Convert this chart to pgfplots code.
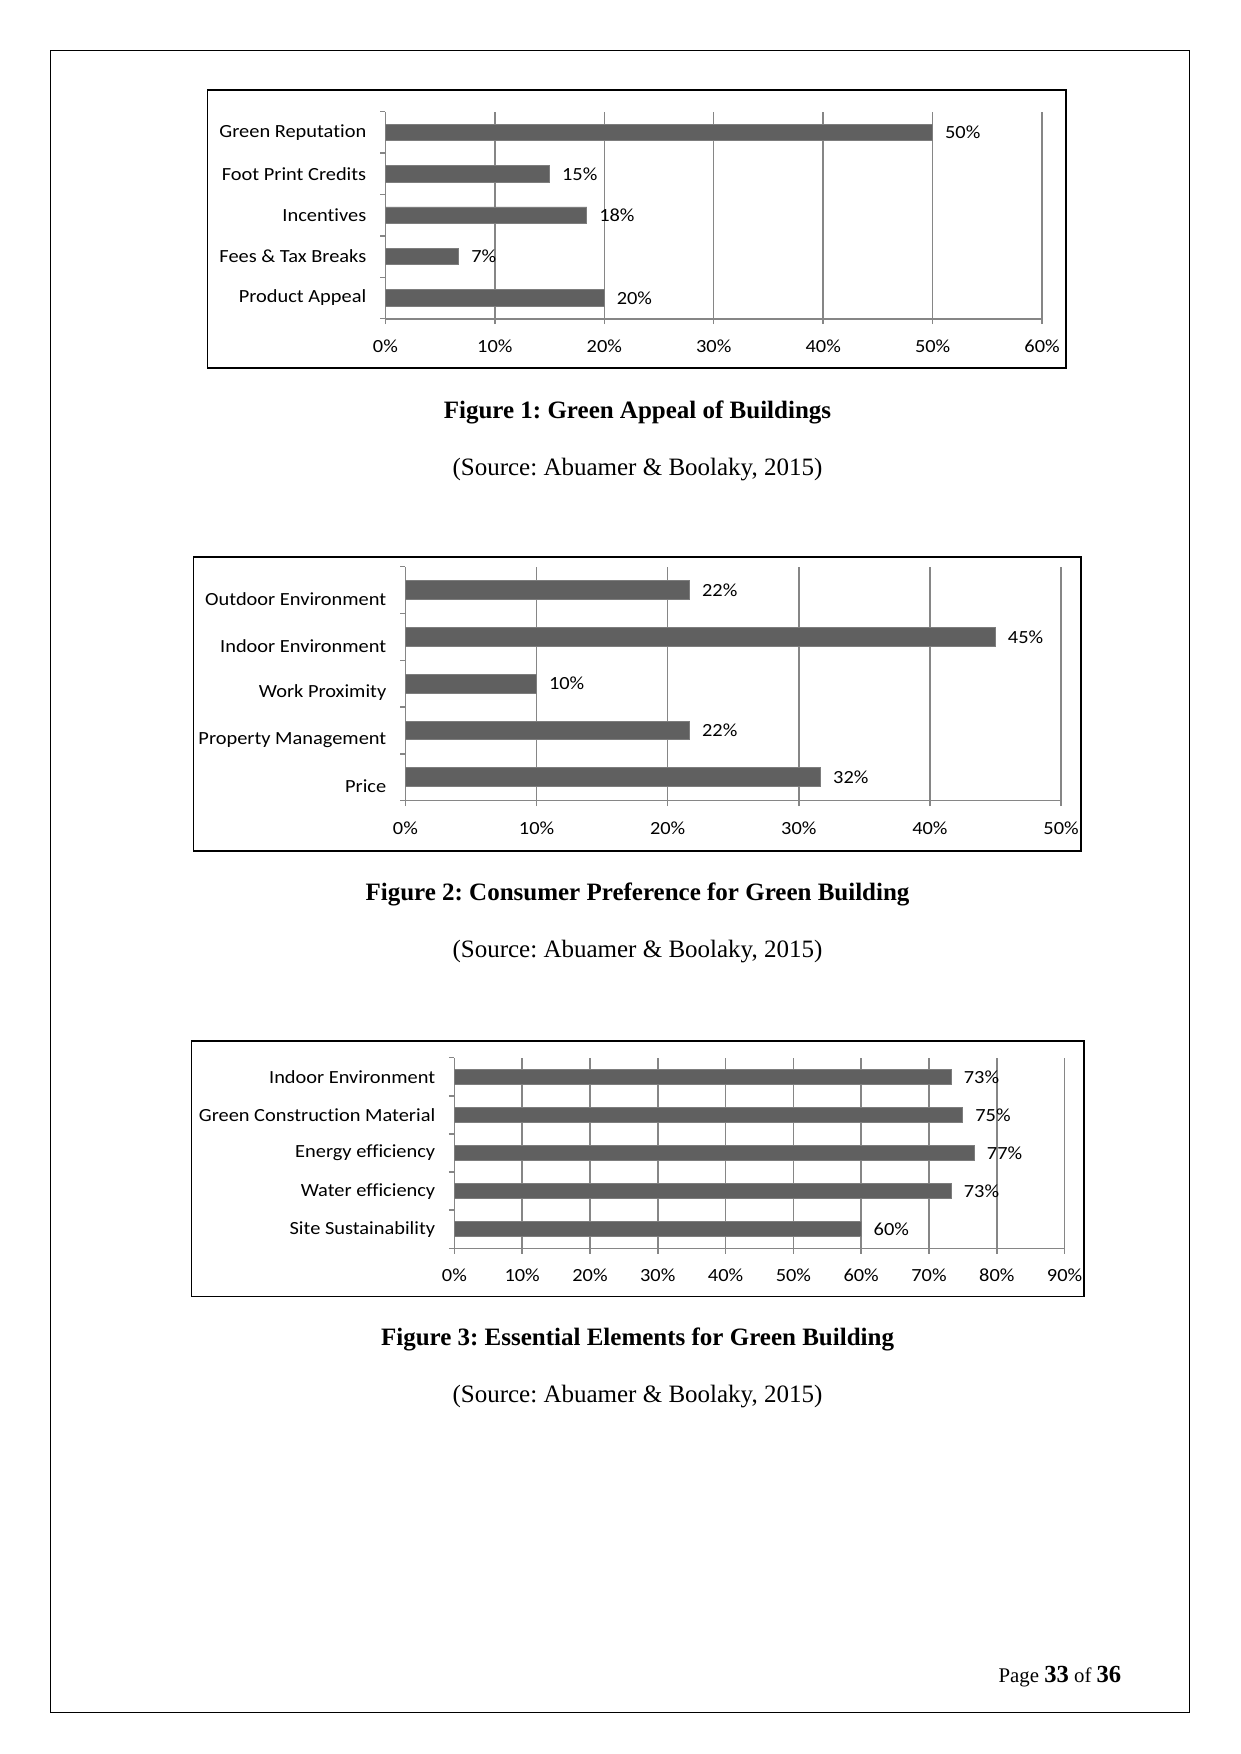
\documentclass[border=0pt]{standalone}
\usepackage{fontspec}
\setmainfont{Liberation Serif}
\newfontfamily\chartfont[FakeStretch=1.1, Ligatures=NoCommon]{Carlito}
\usepackage{pgfplots}
\pgfplotsset{compat=1.18}
\frenchspacing
\definecolor{barfill}{RGB}{96,96,96}
\definecolor{bardraw}{RGB}{125,125,125}
\definecolor{gridc}{RGB}{134,134,134}
\newcommand\cf{\chartfont\fontsize{8.9}{10}\selectfont}
\pgfplotsset{excelbar/.style={
  scale only axis, anchor=south west,
  xbar, bar width=0.4,
  ymin=-0.5, ymax=4.5,
  ytick={-0.5,0.5,...,4.5}, y tick label as interval,
  axis x line*=bottom, axis y line*=left,
  axis line style={draw=gridc, line width=0.8pt, -},
  xmajorgrids, grid style={draw=gridc, line width=0.7pt},
  tick align=outside, major tick length=2.6pt,
  tick style={draw=gridc, line width=0.7pt},
  xmin=0,
  ticklabel style={font=\cf, text=black},
  xticklabel style={anchor=center, yshift=-10.5pt, inner sep=0pt},
  yticklabel style={anchor=east, inner sep=0pt, xshift=-6.4pt},
  nodes near coords={\pgfplotspointmeta\%},
  point meta=explicit symbolic,
  every node near coord/.append style={anchor=west, inner sep=0pt, xshift=5.8pt, font=\cf, text=black},
  clip=false,
}}
\begin{document}
\begin{tikzpicture}
\fill[white] (0,0) rectangle (595.68pt,-841.92pt);
\path[use as bounding box] (0,0) rectangle (595.68pt,-841.92pt);
\draw[line width=0.65pt] (24.34pt,-24.34pt) rectangle (570.86pt,-822.1pt);

% Chart 1
\begin{axis}[excelbar, at={(185.0pt,-153.0pt)}, width=315.2pt, height=99.4pt,
  xmax=60, xtick={0,10,...,60},
  xticklabels={0\%,10\%,20\%,30\%,40\%,50\%,60\%},
  yticklabels={Product Appeal, Fees \& Tax Breaks, Incentives, Foot Print Credits, Green Reputation}]
\addplot[fill=barfill, draw=bardraw, line width=0.4pt] table[x=v, y=i, meta=lab] {
i v lab
0 20.0 20
1 6.7 7
2 18.4 18
3 15.0 15
4 50.0 50
};
\end{axis}
\draw[line width=0.9pt] (99.6pt,-43.2pt) rectangle (511.7pt,-176.6pt);
\node[anchor=base] at (306pt,-201pt) {\fontsize{12}{14}\selectfont\bfseries Figure 1: Green Appeal of Buildings};
\node[anchor=base] at (306pt,-228.4pt) {\fontsize{12}{14}\selectfont (Source: Abuamer \& Boolaky, 2015)};

% Chart 2
\begin{axis}[excelbar, at={(194.6pt,-384.3pt)}, width=314.7pt, height=112.3pt,
  xmax=50, xtick={0,10,...,50},
  xticklabels={0\%,10\%,20\%,30\%,40\%,50\%},
  yticklabel style={yshift=-4.5pt},
  yticklabels={Price, Property Management, Work Proximity, Indoor Environment, Outdoor Environment}]
\addplot[fill=barfill, draw=bardraw, line width=0.4pt] table[x=v, y=i, meta=lab] {
i v lab
0 31.67 32
1 21.67 22
2 10.0 10
3 45.0 45
4 21.67 22
};
\end{axis}
\draw[line width=0.9pt] (92.9pt,-267.5pt) rectangle (518.9pt,-408.5pt);
\node[anchor=base] at (306pt,-432.2pt) {\fontsize{12}{14}\selectfont\bfseries Figure 2: Consumer Preference for Green Building};
\node[anchor=base] at (306pt,-459.6pt) {\fontsize{12}{14}\selectfont (Source: Abuamer \& Boolaky, 2015)};

% Chart 3
\begin{axis}[excelbar, at={(218.1pt,-599.2pt)}, width=292.9pt, height=91.5pt,
  xmax=90, xtick={0,10,...,90},
  xticklabels={0\%,10\%,20\%,30\%,40\%,50\%,60\%,70\%,80\%,90\%},
  yticklabels={Site Sustainability, Water efficiency, Energy efficiency, Green Construction Material, Indoor Environment}]
\addplot[fill=barfill, draw=bardraw, line width=0.4pt] table[x=v, y=i, meta=lab] {
i v lab
0 60.0 60
1 73.3 73
2 76.7 77
3 75.0 75
4 73.3 73
};
\end{axis}
\draw[line width=0.9pt] (91.9pt,-499.5pt) rectangle (520.5pt,-622.3pt);
\node[anchor=base] at (306pt,-645.6pt) {\fontsize{12}{14}\selectfont\bfseries Figure 3: Essential Elements for Green Building};
\node[anchor=base] at (306pt,-673.0pt) {\fontsize{12}{14}\selectfont (Source: Abuamer \& Boolaky, 2015)};

% Page number
\node[anchor=base east, inner sep=0pt] at (538.4pt,-807.7pt) {\fontsize{10}{12}\selectfont Page \textbf{\fontsize{11.8}{14}\selectfont 33} of \textbf{\fontsize{11.8}{14}\selectfont 36}};
\end{tikzpicture}
\end{document}
